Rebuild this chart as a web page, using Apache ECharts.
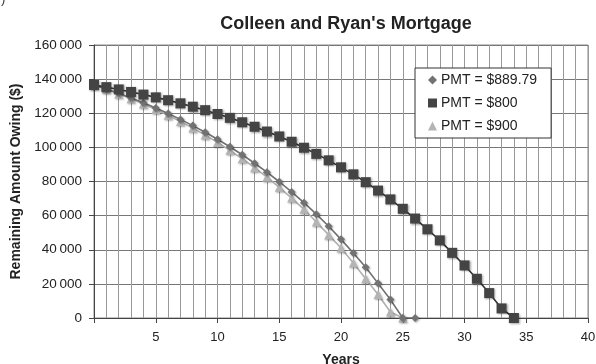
<!DOCTYPE html>
<html>
<head>
<meta charset="utf-8">
<script src="https://cdn.jsdelivr.net/npm/echarts@6/dist/echarts.min.js"></script>
<style>
  html, body { margin: 0; padding: 0; background: #fff; }
  #chart { width: 596px; height: 364px; }
</style>
</head>
<body>
<div id="chart"></div>
<script>
// Remaining balance at the end of each year (index = year), one list per payment
const pmt88979 = [136600, 134200, 131700, 129000, 126100, 123100, 119850, 116400, 112750, 108850,
                  104750, 100350, 95700, 90700, 85450, 79850, 73900, 67600, 60850, 53750,
                  46100, 38100, 29700, 20300, 10800, 0, 0];
const pmt800 = [136600, 135300, 133950, 132500, 130950, 129300, 127650, 125800, 123850, 121800,
                119550, 117300, 114700, 112100, 109300, 106400, 103300, 99800, 96200, 92400,
                88300, 84200, 79600, 74700, 69500, 64000, 58300, 52000, 45500, 38200,
                30800, 23000, 14600, 5600, 0];
const pmt900 = [136600, 134050, 131350, 128500, 125450, 122250, 118850, 115200, 111350, 107250,
                102900, 98250, 93350, 88100, 82550, 76600, 70300, 63700, 56300, 48700,
                41000, 32300, 23000, 13800, 3500, 0];

const seriesNames = ['PMT = $889.79', 'PMT = $800', 'PMT = $900'];
const yearTicks = [5, 10, 15, 20, 25, 30, 35, 40];

const toPoints = arr => arr.map((v, year) => [year, v]);
const fmtThousands = v => String(v).replace(/\B(?=(\d{3})+(?!\d))/g, '\u2009');

const chart = echarts.init(document.getElementById('chart'), null, { renderer: 'canvas' });
const font = '"Liberation Sans", Arial, sans-serif';
const shadow = { shadowBlur: 2, shadowColor: 'rgba(0,0,0,0.35)', shadowOffsetX: 1, shadowOffsetY: 1 };

chart.setOption({
  backgroundColor: '#fff',
  animation: false,
  textStyle: { fontFamily: font },
  title: {
    text: "Colleen and Ryan's Mortgage",
    left: 341, top: 10, textAlign: 'center',
    textStyle: { fontFamily: font, fontSize: 18, fontWeight: 'bold', color: '#222' }
  },
  graphic: [{
    type: 'text', left: 1, top: -7,
    style: { text: ')', fontFamily: font, fontSize: 13, fill: '#333' }
  }],
  legend: {
    orient: 'vertical',
    left: 415, top: 68,
    padding: [5, 14, 5, 13],
    itemGap: 9,
    itemWidth: 9, itemHeight: 9,
    backgroundColor: '#fff',
    borderColor: '#333', borderWidth: 1,
    textStyle: { fontFamily: font, fontSize: 14, color: '#222', padding: [0, 0, 0, -1] },
    data: [
      { name: seriesNames[0], icon: 'diamond' },
      { name: seriesNames[1], icon: 'rect' },
      { name: seriesNames[2], icon: 'triangle' }
    ]
  },
  grid: {
    left: 94, right: 8, top: 45, bottom: 46,
    outerBoundsMode: 'none',
    show: true, borderColor: '#888', borderWidth: 1
  },
  xAxis: {
    type: 'value', min: 0, max: 40, interval: 5,
    name: 'Years', nameLocation: 'middle', nameGap: 35,
    nameTextStyle: { fontFamily: font, fontSize: 14, fontWeight: 'bold', color: '#222' },
    axisLine: { show: true, lineStyle: { color: '#444', width: 1 } },
    axisTick: { show: true, length: 5, lineStyle: { color: '#444' } },
    axisLabel: {
      fontFamily: font, fontSize: 13, color: '#222', margin: 13,
      formatter: v => (yearTicks.indexOf(v) >= 0 ? String(v) : '')
    },
    splitLine: { show: true, lineStyle: { color: '#999', width: 1 } },
    minorTick: { show: false, splitNumber: 5 },
    minorSplitLine: { show: true, lineStyle: { color: '#999', width: 1 } }
  },
  yAxis: {
    type: 'value', min: 0, max: 160000, interval: 20000,
    name: 'Remaining Amount Owing ($)', nameLocation: 'middle', nameGap: 69,
    nameTextStyle: { fontFamily: font, fontSize: 14, fontWeight: 'bold', color: '#222' },
    axisLine: { show: true, lineStyle: { color: '#444', width: 1 } },
    axisTick: { show: true, length: 5, lineStyle: { color: '#444' } },
    axisLabel: { fontFamily: font, fontSize: 13.5, color: '#222', margin: 12, formatter: fmtThousands },
    splitLine: { show: true, lineStyle: { color: '#777', width: 1 } }
  },
  series: [
    {
      name: seriesNames[0], type: 'line', data: toPoints(pmt88979), z: 3,
      symbol: 'diamond', symbolSize: 8,
      lineStyle: { color: '#6f6f6f', width: 1.6 },
      itemStyle: Object.assign({ color: '#727272' }, shadow)
    },
    {
      name: seriesNames[1], type: 'line', data: toPoints(pmt800), z: 4,
      symbol: 'rect', symbolSize: 10,
      lineStyle: { color: '#333', width: 1.6 },
      itemStyle: Object.assign({ color: '#444' }, shadow)
    },
    {
      name: seriesNames[2], type: 'line', data: toPoints(pmt900), z: 2,
      symbol: 'triangle', symbolSize: 9,
      lineStyle: { color: '#b0b0b0', width: 1.6 },
      itemStyle: Object.assign({ color: '#b4b4b4' }, shadow)
    }
  ]
});
</script>
</body>
</html>
